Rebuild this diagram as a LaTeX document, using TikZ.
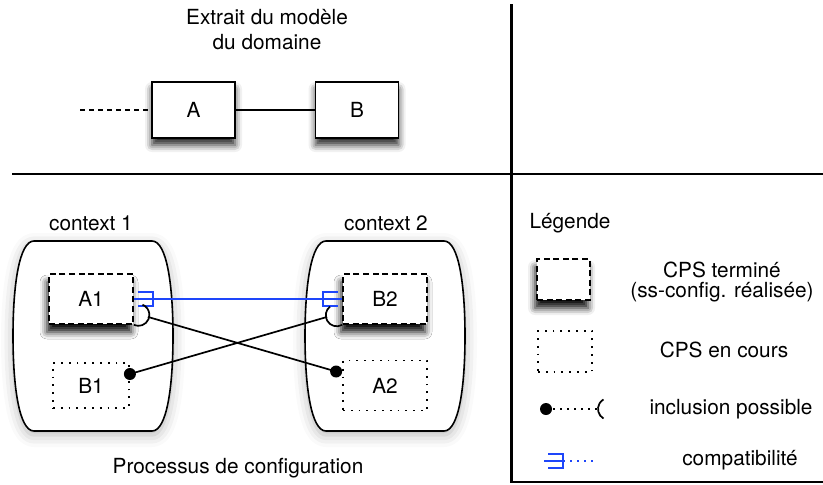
\documentclass[tikz,border=0pt]{standalone}
\usepackage{fontspec}
\setmainfont{TeX Gyre Heros}
\usepackage{xcolor}
\usepackage{tikz}
\usetikzlibrary{positioning,calc,shadows.blur}
\definecolor{compatblue}{RGB}{30,70,250}

\tikzset{
  ctxshape/.pic={
    \path[draw, line width=0.8pt, fill=white, blur shadow={shadow xshift=0pt, shadow yshift=-2pt, shadow blur radius=6pt, shadow opacity=30}]
      (-59,-95) -- (59,-95) .. controls (74,-95) and (80,-50) .. (80,0)
      .. controls (80,50) and (74,95) .. (59,95) -- (-59,95)
      .. controls (-74,95) and (-80,50) .. (-80,0)
      .. controls (-80,-50) and (-74,-95) .. (-59,-95) -- cycle;
  },
  compatfork/.pic={\draw[compat] (4,-7) -- (19,-7) -- (19,7) -- (4,7);}
}

\begin{document}
\begin{tikzpicture}[x=0.5pt, y=-0.5pt, font=\fontsize{10.4}{12.5}\selectfont]
    \tikzstyle{domainbox} = [rectangle, draw=black, line width=0.85pt, fill=white, minimum width=41.5pt, minimum height=28pt, blur shadow={shadow xshift=0pt, shadow yshift=-3.5pt, shadow blur radius=3.5pt, shadow opacity=85}]
    \tikzstyle{cpsdone} = [rectangle, draw=black, line width=0.9pt, dash pattern=on 3pt off 1.8pt, fill=white, minimum width=42pt, minimum height=25pt, blur shadow={shadow xshift=-1pt, shadow yshift=-4pt, shadow blur radius=3.5pt, shadow opacity=95}]
    \tikzstyle{cpsrun} = [rectangle, draw=black, line width=0.9pt, dash pattern=on 0.9pt off 3pt, fill=white, minimum width=42pt, minimum height=25pt]
    \tikzstyle{divider} = [line width=1.2pt]
    \tikzstyle{incl} = [line width=0.85pt]
    \tikzstyle{compat} = [draw=compatblue, line width=0.9pt]
    \tikzstyle{sparse} = [dash pattern=on 0.9pt off 2.6pt]

    \useasboundingbox (0,0) rectangle (823,484);

    % Dividers
    \draw [divider] (12,174) -- (823,174);
    \draw [divider] (511.5,4) -- (511.5,482) -- (823,482);

    % Domain model
    \node [align=center] (title) at (267,30) {Extrait du modèle\\du domaine};
    \node [domainbox] (A) at (193.5,110) {A};
    \node [domainbox, right of=A, node distance=81.75pt] (B) {B};
    \coordinate (Aleft) at (80,110);
    \draw [dash pattern=on 2.5pt off 2pt, line width=0.65pt] (Aleft) -- (A);
    \draw [line width=0.65pt] (A) -- (B);

    % Contexts
    \coordinate (ctx1) at (93,336);
    \coordinate (ctx2) at (385,336);
    \pic at (ctx1) {ctxshape};
    \pic at (ctx2) {ctxshape};
    \node (ctx1lbl) at (91,223) {context 1};
    \node (ctx2lbl) at (386,223) {context 2};
    \node (process) at (238,468) {Processus de configuration};

    % CPS
    \node [cpsdone] (A1) at (91,299) {A1};
    \node [cpsdone, right of=A1, node distance=147pt] (B2) {B2};
    \node [cpsrun, minimum width=38pt, minimum height=22.5pt] (B1) at (91,385.5) {B1};
    \node [cpsrun, right of=B1, node distance=147pt] (A2) {A2};

    % Compatibility
    \draw [compat, draw=compatblue] (A1.east) -- (B2.west);
    \pic at (A1.east) {compatfork};
    \pic [xscale=-1] at (B2.west) {compatfork};

    % Possible inclusions
    \draw [incl] (A1.south east) arc [start angle=114, end angle=-68, radius=11];
    \draw [incl] (B2.south west) arc [start angle=61, end angle=232, radius=11];
    \coordinate (sA1) at ($(A1.south east)+(14,-8)$);
    \coordinate (sB2) at ($(B2.south west)+(-15,-8)$);
    \coordinate (dB1) at ($(B1.east)+(0,-11.5)$);
    \coordinate (dA2) at ($(A2.west)+(-6,-14)$);
    \fill (dB1) circle [radius=6];
    \fill (dA2) circle [radius=6];
    \draw [incl] (sA1) -- (dA2);
    \draw [incl] (sB2) -- (dB1);

    % Legend
    \node (legend) at (570,223) {Légende};
    \node [cpsdone, minimum width=26.5pt, minimum height=20.5pt] (legdone) at (563.5,279.5) {};
    \node [align=center] (legdonetxt) at (722,282) {CPS terminé\\[-2.5pt](ss-config. réalisée)};
    \node [cpsrun, minimum width=27pt, minimum height=20.5pt] (legrun) at (565,351.5) {};
    \node (legruntxt) at (724,350) {CPS en cours};
    \coordinate (legdot) at (546,409);
    \coordinate (legsock) at (598,409);
    \fill (legdot) circle [radius=6];
    \draw [incl, sparse] (legdot) -- (legsock);
    \draw [incl] ($(legsock)+(5.5,9.5)$) arc [start angle=120, end angle=240, radius=11];
    \node (leginctxt) at (731,409) {inclusion possible};
    \coordinate (legfork) at (544,461);
    \coordinate (legcend) at (594,461);
    \pic at (legfork) {compatfork};
    \draw [compat] (legfork) -- ++(19,0);
    \draw [compat, sparse] ($(legfork)+(19,0)$) -- (legcend);
    \node (legcomptxt) at (740,460) {compatibilité};
\end{tikzpicture}
\end{document}
